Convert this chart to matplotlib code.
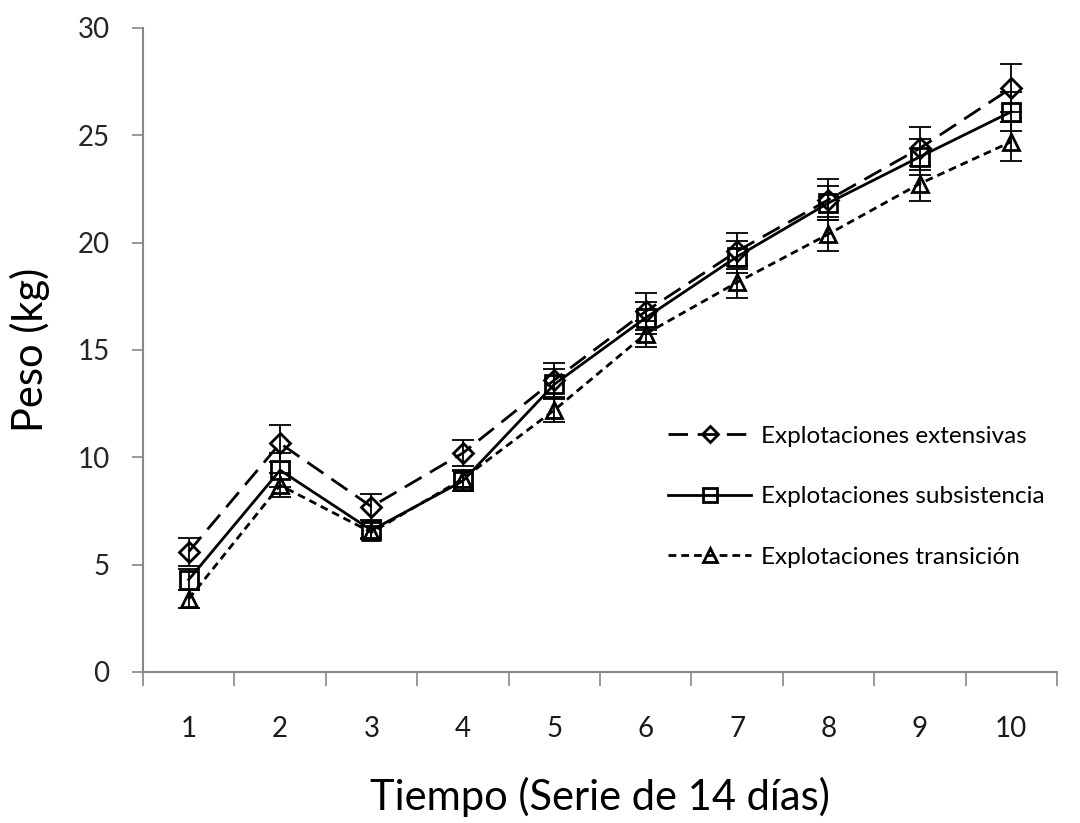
import numpy as np
import matplotlib.pyplot as plt
from matplotlib.ticker import FixedLocator, NullFormatter

periodos = [1, 2, 3, 4, 5, 6, 7, 8, 9, 10]

extensivas = [5.6, 10.65, 7.7, 10.2, 13.6, 16.8, 19.6, 22.0, 24.4, 27.2]
extensivas_err = [0.65, 0.85, 0.6, 0.6, 0.8, 0.85, 0.85, 0.95, 1.0, 1.1]

subsistencia = [4.3, 9.4, 6.6, 8.9, 13.4, 16.5, 19.35, 21.85, 24.0, 26.1]
subsistencia_err = [0.5, 0.8, 0.35, 0.45, 0.7, 0.75, 0.75, 0.8, 0.85, 0.9]

transicion = [3.4, 8.7, 6.5, 9.0, 12.2, 15.75, 18.15, 20.4, 22.75, 24.7]
transicion_err = [0.4, 0.55, 0.3, 0.4, 0.55, 0.6, 0.75, 0.8, 0.8, 0.9]

etiquetas = ["Explotaciones extensivas", "Explotaciones subsistencia", "Explotaciones transición"]

plt.rcParams["font.family"] = ["Lato", "DejaVu Sans"]

fig = plt.figure(figsize=(10.8, 8.23), dpi=100)
ax = fig.add_axes([0.1324, 0.1835, 0.8463, 0.7825])

series = [
    (extensivas, extensivas_err, "D", 10, (0, (7, 3.5))),
    (subsistencia, subsistencia_err, "s", 13, "-"),
    (transicion, transicion_err, "^", 12, (0, (2.8, 1.8))),
]

for (vals, err, mk, ms, ls), lab in zip(series, etiquetas):
    ax.errorbar(periodos, vals, yerr=err, fmt="none", ecolor="black",
                elinewidth=1.3, capsize=8, capthick=1.3, zorder=2)
    ax.plot(periodos, vals, color="black", linestyle=ls, linewidth=2,
            marker=mk, markersize=ms, markerfacecolor="none",
            markeredgecolor="black", markeredgewidth=2, label=lab, zorder=3)

ax.set_xlim(0.5, 10.5)
ax.set_ylim(0, 30)
ax.set_yticks([0, 5, 10, 15, 20, 25, 30])

# ticks at the category boundaries, labels centred on each period
ax.xaxis.set_major_locator(FixedLocator(np.arange(0.5, 11, 1)))
ax.xaxis.set_major_formatter(NullFormatter())
ax.xaxis.set_minor_locator(FixedLocator(periodos))
ax.set_xticklabels([str(p) for p in periodos], minor=True)
ax.tick_params(axis="x", which="major", direction="out", length=10, width=1.2, color="#888888")
ax.tick_params(axis="x", which="minor", length=0, pad=32, labelsize=20, labelcolor="#1a1a1a")
ax.tick_params(axis="y", direction="out", length=8, width=1.2, color="#888888",
               pad=16, labelsize=20, labelcolor="#262626")

for s in ["top", "right"]:
    ax.spines[s].set_visible(False)
for s in ["left", "bottom"]:
    ax.spines[s].set_color("#888888")
    ax.spines[s].set_linewidth(1.5)

ax.set_xlabel("Tiempo (Serie de 14 días)", fontsize=30, labelpad=25)
ax.set_ylabel("Peso (kg)", fontsize=30, labelpad=20)

ax.legend(loc="center left", bbox_to_anchor=(0.574, 0.272), frameon=False,
          fontsize=17.5, handlelength=3.45, handletextpad=0.4,
          labelspacing=1.63, borderpad=0, borderaxespad=0, markerscale=0.8)

fig.savefig("out.png", dpi=100)
